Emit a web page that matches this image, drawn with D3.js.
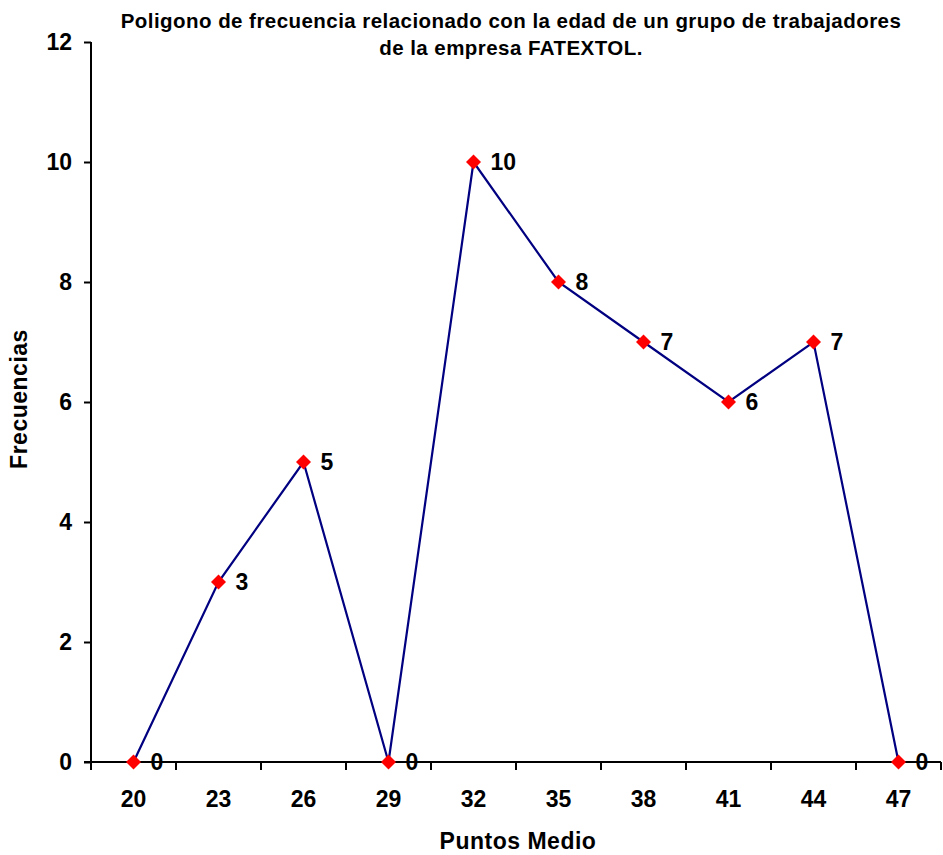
<!DOCTYPE html>
<html>
<head>
<meta charset="utf-8">
<script src="https://cdn.jsdelivr.net/npm/d3@7"></script>
<style>
  html, body { margin: 0; padding: 0; background: #fff; }
  svg { display: block; font-family: Arial, "Liberation Sans", sans-serif; }
</style>
</head>
<body>
<svg id="chart" width="943" height="855"></svg>
<script>
// Class midpoints (ages) and their frequencies
const midpoints = ["20", "23", "26", "29", "32", "35", "38", "41", "44", "47"];
const frequencies = [0, 3, 5, 0, 10, 8, 7, 6, 7, 0];
const yTicks = [0, 2, 4, 6, 8, 10, 12];

const titleLines = [
  "Poligono de frecuencia relacionado con la edad de un grupo de trabajadores",
  "de la empresa FATEXTOL."
];
const xTitle = "Puntos Medio";
const yTitle = "Frecuencias";

const svg = d3.select("#chart");
const plot = { left: 91, right: 941, top: 42, bottom: 762 };

const x = d3.scaleBand().domain(midpoints).range([plot.left, plot.right]);
const y = d3.scaleLinear().domain([0, 12]).range([plot.bottom, plot.top]);

const data = midpoints.map((m, i) => ({ m, v: frequencies[i] }));

// Title
svg.append("g")
  .selectAll("text")
  .data(titleLines)
  .join("text")
  .attr("x", 511)
  .attr("y", (d, i) => 28 + i * 27)
  .attr("text-anchor", "middle")
  .attr("font-weight", "bold")
  .attr("font-size", 20.5)
  .attr("letter-spacing", 0.45)
  .text(d => d);

// Y axis
const yAxis = svg.append("g")
  .attr("transform", `translate(${plot.left},0)`)
  .call(d3.axisLeft(y).tickValues(yTicks).tickSize(7).tickPadding(12).tickFormat(d3.format("d")));
yAxis.selectAll("path, line").attr("stroke", "#000").attr("stroke-width", 2);
yAxis.select(".domain").attr("d", `M0,${plot.top}V${plot.bottom}`);
yAxis.selectAll("text")
  .attr("font-size", 23).attr("font-weight", "bold")
  .attr("font-family", "Arial, 'Liberation Sans', sans-serif").attr("fill", "#000");

// X axis: ticks sit between categories
const xAxis = svg.append("g")
  .attr("transform", `translate(0,${plot.bottom})`);
xAxis.append("line")
  .attr("x1", plot.left - 7).attr("x2", plot.right)
  .attr("stroke", "#000").attr("stroke-width", 2);
const boundaries = midpoints.map(m => x(m)).concat([x(midpoints[midpoints.length - 1]) + x.bandwidth()]);
xAxis.selectAll("line.tick")
  .data(boundaries)
  .join("line")
  .attr("class", "tick")
  .attr("x1", d => d).attr("x2", d => d)
  .attr("y1", 0).attr("y2", 8)
  .attr("stroke", "#000").attr("stroke-width", 2);
xAxis.selectAll("text")
  .data(midpoints)
  .join("text")
  .attr("x", d => x(d) + x.bandwidth() / 2)
  .attr("y", 45)
  .attr("text-anchor", "middle")
  .attr("font-size", 23).attr("font-weight", "bold")
  .text(d => d);

// Axis titles
svg.append("text")
  .attr("x", 518).attr("y", 849)
  .attr("text-anchor", "middle")
  .attr("font-size", 23).attr("font-weight", "bold")
  .attr("letter-spacing", 0.5)
  .text(xTitle);
svg.append("text")
  .attr("transform", "translate(27,399) rotate(-90)")
  .attr("text-anchor", "middle")
  .attr("font-size", 23).attr("font-weight", "bold")
  .attr("letter-spacing", 0.5)
  .text(yTitle);

const cx = d => x(d.m) + x.bandwidth() / 2;

// Polygon line
svg.append("path")
  .datum(data)
  .attr("fill", "none")
  .attr("stroke", "#000080")
  .attr("stroke-width", 2.2)
  .attr("d", d3.line().x(cx).y(d => y(d.v)));

// Diamond markers
svg.append("g")
  .selectAll("path")
  .data(data)
  .join("path")
  .attr("transform", d => `translate(${cx(d)},${y(d.v)})`)
  .attr("d", "M0,-7.5L7.5,0L0,7.5L-7.5,0Z")
  .attr("fill", "#ff0000");

// Value labels
svg.append("g")
  .selectAll("text")
  .data(data)
  .join("text")
  .attr("x", d => cx(d) + 17)
  .attr("y", d => y(d.v))
  .attr("dy", "0.36em")
  .attr("font-size", 23).attr("font-weight", "bold")
  .text(d => d.v);
</script>
</body>
</html>
